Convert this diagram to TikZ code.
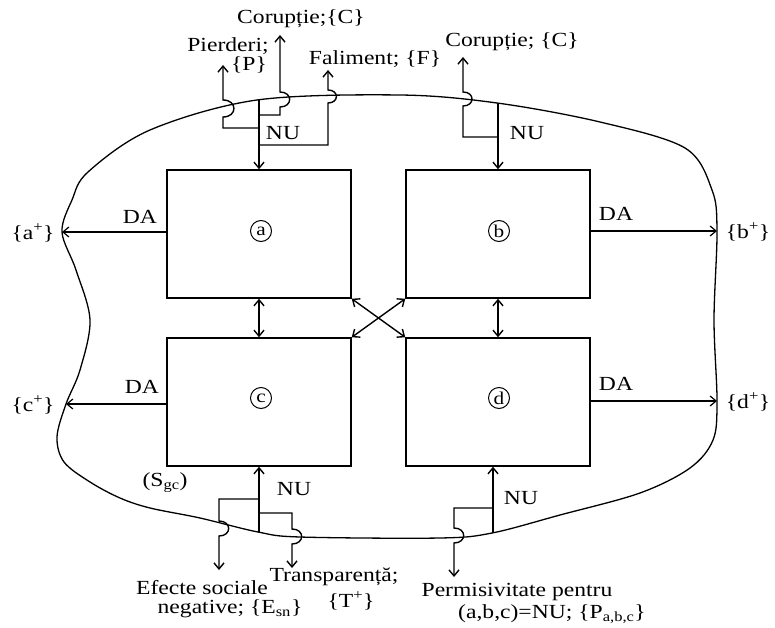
\documentclass[tikz,border=0pt]{standalone}
\usepackage{fontspec}
\setmainfont{Liberation Serif}[FakeStretch=1.18]
\usetikzlibrary{arrows.meta}
\begin{document}
\begin{tikzpicture}[x=1pt,y=-1pt,
  box/.style={draw,line width=1.5pt,minimum width=184pt,minimum height=128pt,inner sep=0pt},
  tag/.style={draw,circle,line width=1pt,inner sep=0pt,minimum size=21pt,font=\fontsize{18}{18}\selectfont},
  lbl/.style={inner sep=0pt,font=\fontsize{20}{22}\selectfont},
  ln/.style={line width=1.4pt},
  arr/.style={ln,-{Straight Barb[length=6pt,width=10pt]}},
  thinarr/.style={line width=1.2pt,-{Straight Barb[length=6pt,width=10pt]}},
  dbl/.style={ln,{Straight Barb[length=6pt,width=10pt]}-{Straight Barb[length=6pt,width=10pt]}},
  hop/.style={out=0,in=0,looseness=2.2},
  border/.style={line width=1.3pt}]
\useasboundingbox (0,0) rectangle (775,628);

% boundary
\draw[border] plot[smooth cycle, tension=0.55] coordinates {
  (62,232) (72,200) (88,172) (150,130) (257,100) (400,95) (497,103) (600,122)
  (685,148) (712,190) (717,231) (714,320) (717,401) (713,440) (690,468) (640,493)
  (560,515) (492,533) (440,538) (300,537) (258,532) (200,518) (150,508) (120,498)
  (90,482) (64,462) (57,437) (66,404) (80,370) (90,320) (76,270)};
\coordinate (ap) at (62,232);
\coordinate (bp) at (717,231);
\coordinate (cp) at (66,404);
\coordinate (dp) at (717,401);

% boxes
\node[box] (a) at (259,234) {};
\node[box] (b) at (498,234) {};
\node[box] (c) at (259,402) {};
\node[box] (d) at (498,402) {};
\node[tag] (ta) at (261,231) {a};
\node[tag] (tb) at (499,231) {b};
\node[tag] (tc) at (261,398) {c};
\node[tag] (td) at (499,398) {d};

% links between boxes
\draw[dbl] (a.south) -- (c.north);
\draw[dbl] (b.south) -- (d.north);
\draw[dbl] (a.south east) -- (d.north west);
\draw[dbl] (b.south west) -- (c.north east);

% DA outputs
\draw[thinarr] (a.west |- ap) -- (ap);
\draw[thinarr] (b.east |- bp) -- (bp);
\draw[thinarr] (c.west |- cp) -- (cp);
\draw[thinarr] (d.east |- dp) -- (dp);
\node[lbl] (da1) at (140,217) {DA};
\node[lbl] (da2) at (616,214) {DA};
\node[lbl] (da3) at (142,387) {DA};
\node[lbl] (da4) at (616,384) {DA};
\node[lbl] (lap) at (33,233) {\{a\textsuperscript{+}\}};
\node[lbl] (lbp) at (748,232) {\{b\textsuperscript{+}\}};
\node[lbl] (lcp) at (33,405) {\{c\textsuperscript{+}\}};
\node[lbl] (ldp) at (748,402) {\{d\textsuperscript{+}\}};

% top of a
\coordinate (at) at (259,100);
\draw[arr] (at) -- (a.north);
\coordinate (pe) at (223,65);
\coordinate (ce) at (280,35);
\coordinate (fe) at (328,70);
\draw[arr] (259,128) -- (223,128) -- (223,117) to[hop] (223,100) -- (pe);
\draw[arr] (259,115) -- (280,115) -- (280,107) to[hop] (280,92) -- (ce);
\draw[arr] (259,145) -- (328,145) -- (328,103) to[hop] (328,90) -- (fe);
\node[lbl] (nua) at (283,133) {NU};
\node[lbl] (lpi) at (228,46) {Pierderi;};
\node[lbl] (lpp) at (249,65) {\{P\}};
\node[lbl] (lc1) at (301,19) {Corupție;\{C\}};
\node[lbl] (lfa) at (375,59) {Faliment; \{F\}};

% top of b
\coordinate (bt) at (498,103);
\draw[arr] (bt) -- (b.north);
\coordinate (be) at (463,57);
\draw[arr] (498,137) -- (463,137) -- (463,106) to[hop] (463,92) -- (be);
\node[lbl] (nub) at (527,133) {NU};
\node[lbl] (lc2) at (512,42) {Corupție; \{C\}};

% bottom of c
\coordinate (cb) at (259,532);
\draw[arr] (cb) -- (c.south);
\coordinate (ee) at (219,570);
\coordinate (te) at (292,568);
\draw[arr] (259,499) -- (219,499) -- (219,521) to[hop] (219,536) -- (ee);
\draw[arr] (259,513) -- (292,513) -- (292,529) to[hop] (292,544) -- (te);
\node[lbl] (nuc) at (294,489) {NU};
\node[lbl] (lsg) at (165,483) {(S\textsubscript{gc})};
\node[lbl] (lef) at (202,588) {Efecte sociale};
\node[lbl] (lng) at (230,609) {negative; \{E\textsubscript{sn}\}};
\node[lbl] (ltr) at (334,577) {Transparență;};
\node[lbl] (ltp) at (351,601) {\{T\textsuperscript{+}\}};

% bottom of d
\coordinate (db) at (493,533);
\draw[arr] (db) -- (db |- d.south);
\coordinate (pme) at (454,577);
\draw[arr] (493,508) -- (454,508) -- (454,528) to[hop] (454,543) -- (pme);
\node[lbl] (nud) at (521,498) {NU};
\node[lbl] (lpm) at (517,592) {Permisivitate pentru};
\node[lbl] (lab) at (552,614) {(a,b,c)=NU; \{P\textsubscript{a,b,c}\}};
\end{tikzpicture}
\end{document}
